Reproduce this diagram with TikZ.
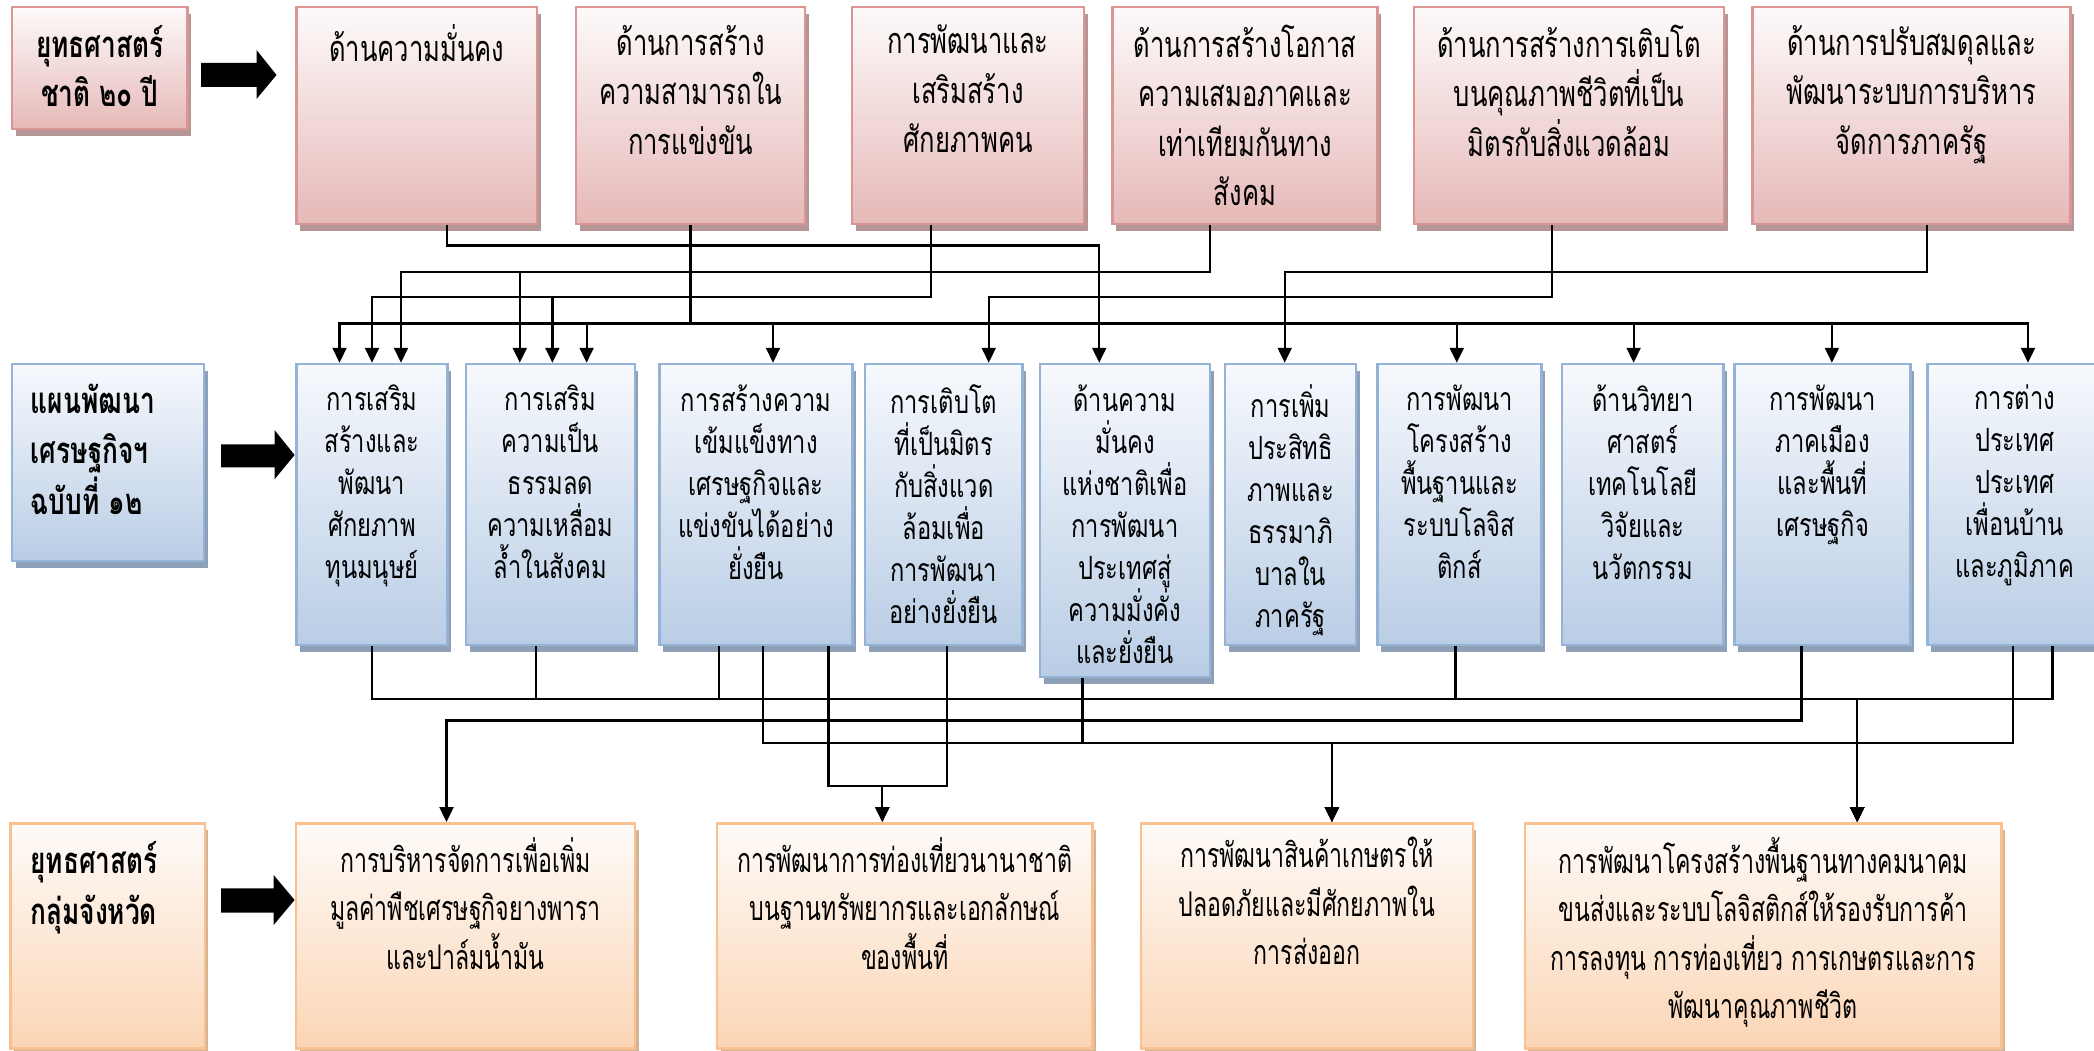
\documentclass[tikz,border=0pt]{standalone}
\usepackage{fontspec}
\newfontfamily\thaiT[Script=Thai,FakeStretch=0.71]{Loma}
\newfontfamily\thaiM[Script=Thai,FakeStretch=0.74]{Loma}
\newfontfamily\thaiB[Script=Thai,FakeStretch=0.68]{Loma}
\newfontfamily\thaiL[Script=Thai,FakeStretch=0.72]{Loma}
\usetikzlibrary{arrows.meta,shadows}
\definecolor{pinkB}{HTML}{D99694}
\definecolor{pinkF}{HTML}{E6B9B8}
\definecolor{pinkT}{HTML}{FDFAFA}
\definecolor{pinkS}{HTML}{B49696}
\definecolor{blueB}{HTML}{95B3D7}
\definecolor{blueF}{HTML}{B9CDE5}
\definecolor{blueT}{HTML}{F7F9FD}
\definecolor{blueS}{HTML}{8E9FB8}
\definecolor{orB}{HTML}{FAC090}
\definecolor{orF}{HTML}{FBD5B5}
\definecolor{orT}{HTML}{FEFBF9}
\definecolor{orS}{HTML}{D2B496}
\begin{document}
\begin{tikzpicture}[x=1pt,y=-1pt,
  basebox/.style={rectangle, line width=2.5pt, inner sep=0pt},
  pbox/.style={basebox, draw=pinkB, top color=pinkT, bottom color=pinkF,
    general shadow={fill=pinkS, shadow xshift=3.5pt, shadow yshift=-7pt}},
  bbox/.style={basebox, draw=blueB, top color=blueT, bottom color=blueF,
    general shadow={fill=blueS, shadow xshift=3.5pt, shadow yshift=-7pt}},
  obox/.style={basebox, draw=orB, top color=orT, bottom color=orF,
    general shadow={fill=orS, shadow xshift=3.5pt, shadow yshift=-7pt}},
  conn/.style={line width=2.2pt, black},
  tip/.style={conn, -{Triangle[length=15pt,width=14pt]}},
  txt/.style={anchor=north, inner sep=0pt, align=center,
    font=\thaiT\fontsize{36}{49.5}\selectfont, execute at begin node={\rule{0pt}{36pt}}},
  btxt/.style={anchor=north, inner sep=0pt, align=center,
    font=\thaiB\fontsize{34}{48.5}\selectfont, execute at begin node={\rule{0pt}{36pt}}},
  mtxt/.style={anchor=north, inner sep=0pt, align=center,
    font=\thaiM\fontsize{32}{42}\selectfont, execute at begin node={\rule{0pt}{32pt}}},
  ltxt/.style={inner sep=0pt, font=\thaiL\bfseries\fontsize{36.5}{48.5}\selectfont,
    execute at begin node={\rule{0pt}{36pt}}},
  fat/.style={fill=black}
]
\fill[white] (0,0) rectangle (2094,1051);
\useasboundingbox (0,0) rectangle (2094,1051);

% ---------- top row ----------
\node[pbox, minimum width=175.5pt, minimum height=122pt] (L1) at (99.75,68) {};
\node[pbox, minimum width=240.4pt, minimum height=217pt] (T1) at (416.8,115.5) {};
\node[pbox, minimum width=229pt, minimum height=217pt] (T2) at (690.5,115.5) {};
\node[pbox, minimum width=232pt, minimum height=217pt] (T3) at (968,115.5) {};
\node[pbox, minimum width=265pt, minimum height=217pt] (T4) at (1245,115.5) {};
\node[pbox, minimum width=310.3pt, minimum height=217pt] (T5) at (1568.9,115.5) {};
\node[pbox, minimum width=318pt, minimum height=217pt] (T6) at (1911.5,115.5) {};

% ---------- middle row ----------
\node[bbox, minimum width=192pt, minimum height=197pt] (L2) at (108,462.5) {};
\node[bbox, minimum width=150.7pt, minimum height=281pt] (M1) at (372,504.5) {};
\node[bbox, minimum width=168.8pt, minimum height=281pt] (M2) at (550.4,504.5) {};
\node[bbox, minimum width=193pt, minimum height=281pt] (M3) at (756,504.5) {};
\node[bbox, minimum width=157.5pt, minimum height=281pt] (M4) at (943.75,504.5) {};
\node[bbox, minimum width=170pt, minimum height=313pt] (M5) at (1125,520.5) {};
\node[bbox, minimum width=131pt, minimum height=281pt] (M6) at (1290.5,504.5) {};
\node[bbox, minimum width=164pt, minimum height=281pt] (M7) at (1459.5,504.5) {};
\node[bbox, minimum width=161.6pt, minimum height=281pt] (M8) at (1642.8,504.5) {};
\node[bbox, minimum width=176pt, minimum height=281pt] (M9) at (1822.5,504.5) {};
\node[bbox, minimum width=174.7pt, minimum height=281pt] (M10) at (2014.7,504.5) {};

% ---------- bottom row ----------
\node[obox, minimum width=194.3pt, minimum height=225pt] (L3) at (107.6,935.8) {};
\node[obox, minimum width=339pt, minimum height=225pt] (B1) at (465.5,935.8) {};
\node[obox, minimum width=375.4pt, minimum height=225pt] (B2) at (904.7,935.8) {};
\node[obox, minimum width=331.8pt, minimum height=225pt] (B3) at (1306.9,935.8) {};
\node[obox, minimum width=476.8pt, minimum height=225pt] (B4) at (1763.2,935.8) {};

% ---------- fat arrows ----------
\fill[fat] (201,63) -- (256.5,63) -- (256.5,50) -- (276.5,75) -- (256.5,99) -- (256.5,87) -- (201,87) -- cycle;
\fill[fat] (221,444.3) -- (274.5,444.3) -- (274.5,430) -- (294.6,455) -- (274.5,479.3) -- (274.5,467.3) -- (221,467.3) -- cycle;
\fill[fat] (221,888.3) -- (273.6,888.3) -- (273.6,875) -- (294.6,900) -- (273.6,925) -- (273.6,912.7) -- (221,912.7) -- cycle;

% ---------- texts ----------
\node[ltxt, anchor=north, align=center] (L1t) at ([yshift=-20pt]L1.north) {ยุทธศาสตร์\\ชาติ ๒๐ ปี};
\node[ltxt, anchor=north west, align=left, font=\thaiL\bfseries\fontsize{36.5}{50.5}\selectfont] (L2t) at ([xshift=20pt,yshift=-21pt]L2.north west) {แผนพัฒนา\\เศรษฐกิจฯ\\ฉบับที่ ๑๒};
\node[ltxt, anchor=north west, align=left, font=\thaiL\bfseries\fontsize{36.5}{51}\selectfont] (L3t) at ([xshift=21pt,yshift=-19pt]L3.north west) {ยุทธศาสตร์\\กลุ่มจังหวัด};

\node[txt] (T1t) at ([yshift=-19pt]T1.north) {ด้านความมั่นคง};
\node[txt] (T2t) at ([yshift=-19pt]T2.north) {ด้านการสร้าง\\ความสามารถใน\\การแข่งขัน};
\node[txt] (T3t) at ([yshift=-19pt]T3.north) {การพัฒนาและ\\เสริมสร้าง\\ศักยภาพคน};
\node[txt] (T4t) at ([yshift=-19pt]T4.north) {ด้านการสร้างโอกาส\\ความเสมอภาคและ\\เท่าเทียมกันทาง\\สังคม};
\node[txt] (T5t) at ([yshift=-19pt]T5.north) {ด้านการสร้างการเติบโต\\บนคุณภาพชีวิตที่เป็น\\มิตรกับสิ่งแวดล้อม};
\node[txt] (T6t) at ([yshift=-19pt]T6.north) {ด้านการปรับสมดุลและ\\พัฒนาระบบการบริหาร\\จัดการภาครัฐ};

\node[mtxt] (M1t) at ([yshift=-22pt]M1.north) {การเสริม\\สร้างและ\\พัฒนา\\ศักยภาพ\\ทุนมนุษย์};
\node[mtxt] (M2t) at ([yshift=-22pt]M2.north) {การเสริม\\ความเป็น\\ธรรมลด\\ความเหลื่อม\\ล้ำในสังคม};
\node[mtxt] (M3t) at ([yshift=-22pt]M3.north) {การสร้างความ\\เข้มแข็งทาง\\เศรษฐกิจและ\\แข่งขันได้อย่าง\\ยั่งยืน};
\node[mtxt] (M4t) at ([yshift=-22pt]M4.north) {การเติบโต\\ที่เป็นมิตร\\กับสิ่งแวด\\ล้อมเพื่อ\\การพัฒนา\\อย่างยั่งยืน};
\node[mtxt] (M5t) at ([yshift=-22pt]M5.north) {ด้านความ\\มั่นคง\\แห่งชาติเพื่อ\\การพัฒนา\\ประเทศสู่\\ความมั่งคั่ง\\และยั่งยืน};
\node[mtxt] (M6t) at ([yshift=-22pt]M6.north) {การเพิ่ม\\ประสิทธิ\\ภาพและ\\ธรรมาภิ\\บาลใน\\ภาครัฐ};
\node[mtxt] (M7t) at ([yshift=-22pt]M7.north) {การพัฒนา\\โครงสร้าง\\พื้นฐานและ\\ระบบโลจิส\\ติกส์};
\node[mtxt] (M8t) at ([yshift=-22pt]M8.north) {ด้านวิทยา\\ศาสตร์\\เทคโนโลยี\\วิจัยและ\\นวัตกรรม};
\node[mtxt] (M9t) at ([yshift=-22pt]M9.north) {การพัฒนา\\ภาคเมือง\\และพื้นที่\\เศรษฐกิจ};
\node[mtxt] (M10t) at ([yshift=-22pt]M10.north) {การต่าง\\ประเทศ\\ประเทศ\\เพื่อนบ้าน\\และภูมิภาค};

\node[btxt] (B1t) at ([yshift=-15pt]B1.north) {การบริหารจัดการเพื่อเพิ่ม\\มูลค่าพืชเศรษฐกิจยางพารา\\และปาล์มน้ำมัน};
\node[btxt] (B2t) at ([yshift=-15pt]B2.north) {การพัฒนาการท่องเที่ยวนานาชาติ\\บนฐานทรัพยากรและเอกลักษณ์\\ของพื้นที่};
\node[btxt] (B3t) at ([yshift=-15pt]B3.north) {การพัฒนาสินค้าเกษตรให้\\ปลอดภัยและมีศักยภาพใน\\การส่งออก};
\node[btxt] (B4t) at ([yshift=-15pt]B4.north) {การพัฒนาโครงสร้างพื้นฐานทางคมนาคม\\ขนส่งและระบบโลจิสติกส์ให้รองรับการค้า\\การลงทุน การท่องเที่ยว การเกษตรและการ\\พัฒนาคุณภาพชีวิต};

% ---------- connectors: top -> middle ----------
\draw[tip] ([xshift=30.5pt]T1.south) -- ++(0,20.3) -| ([xshift=-25.8pt]M5.north);
\foreach \m/\d in {M1/-32.5, M2/36.2, M3/17, M7/-2.7, M8/-9.2, M9/9.4, M10/13.3}
  \draw[tip] (T2.south) -- ++(0,98.3) -| ([xshift=\d pt]\m.north);
\foreach \m/\d in {M1/0, M2/2}
  \draw[tip] ([xshift=-37.3pt]T3.south) -- ++(0,72) -| ([xshift=\d pt]\m.north);
\foreach \m/\d in {M1/29, M2/-30.6}
  \draw[tip] ([xshift=-35pt]T4.south) -- ++(0,47) -| ([xshift=\d pt]\m.north);
\draw[tip] ([xshift=-17pt]T5.south) -- ++(0,72) -| ([xshift=45pt]M4.north);
\draw[tip] ([xshift=15.8pt]T6.south) -- ++(0,47) -| ([xshift=-5.8pt]M6.north);

% ---------- connectors: middle -> bottom ----------
\foreach \m/\d in {M1/0, M2/-14.4, M3/-37.2, M7/-4, M10/37.8}
  \draw[tip] ([xshift=\d pt]\m.south) -- ++(0,52.7) -| ([xshift=94pt]B4.north);
\draw[tip] ([xshift=-21pt]M9.south) -- ++(0,74.3) -| ([xshift=-19pt]B1.north);
\draw[tip] ([xshift=7pt]M3.south) -- ++(0,97) -| ([xshift=25pt]B3.north);
\draw[tip] ([xshift=-42.6pt]M5.south) -- ++(0,65) -| ([xshift=25pt]B3.north);
\draw[tip] ([xshift=-2pt]M10.south) -- ++(0,97) -| ([xshift=25pt]B3.north);
\draw[tip] ([xshift=72.5pt]M3.south) -- ++(0,139.7) -| ([xshift=-22.4pt]B2.north);
\draw[tip] ([xshift=3.5pt]M4.south) -- ++(0,139.7) -| ([xshift=-22.4pt]B2.north);
\end{tikzpicture}
\end{document}
